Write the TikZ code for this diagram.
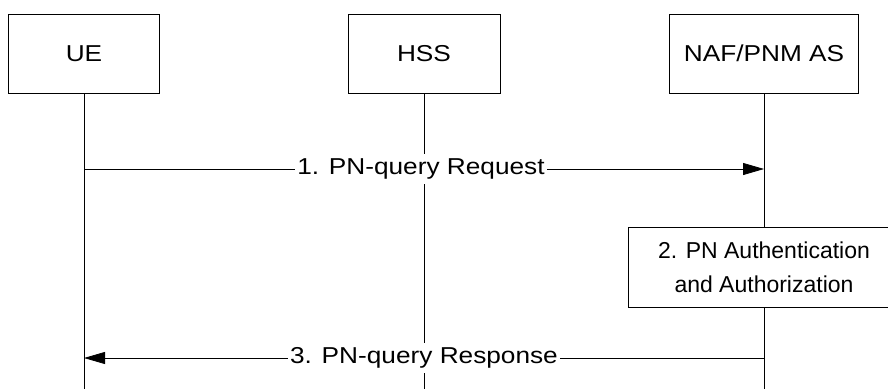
\documentclass[tikz,border=0pt]{standalone}
\usepackage{fontspec}
\setmainfont{Liberation Sans}
\newfontfamily\widefont[FakeStretch=1.14]{Liberation Sans}
\usetikzlibrary{arrows.meta,positioning}

\begin{document}
\begin{tikzpicture}[
x=1pt, y=1pt,
every node/.style={font=\fontsize{23}{34}\selectfont},
entity/.style={draw, fill=white, minimum height=79pt, inner sep=0pt, font=\fontsize{23}{34}\widefont},
msg/.style={-{Triangle[length=21pt,width=12pt]}, line width=0.8pt},
msglabel/.style={fill=white, inner xsep=2pt, inner ysep=5pt, font=\fontsize{23}{34}\widefont}
]
\useasboundingbox (0,0) rectangle (888,389);

\node (ue)  [entity, minimum width=151pt] at (84,335.5)  {UE};
\node (hss) [entity, minimum width=152pt] at (424,335.5) {HSS};
\node (naf) [entity, minimum width=189pt] at (764,335.5) {NAF/PNM AS};

%
\coordinate (ue-end)  at (ue.south |- 0,0);
\coordinate (hss-end) at (hss.south |- 0,0);
\coordinate (naf-end) at (naf.south |- 0,0);

\draw[line width=0.8pt] (ue.south)  -- (ue-end);
\draw[line width=0.8pt] (hss.south) -- (hss-end);
\draw[line width=0.8pt] (naf.south) -- (naf-end);

\coordinate (req1) at (ue.south |- 0,220);
\coordinate (req2) at (naf.south |- 0,220);
\coordinate (rsp1) at (naf.south |- 0,31);
\coordinate (rsp2) at (ue.south |- 0,31);

\draw[msg] (req1) -- node[msglabel, xshift=-3pt] {1. PN-query Request} (req2);

\node (auth) [draw, fill=white, minimum width=272pt, minimum height=80pt, inner sep=0pt, align=center] at (naf.south |- 0,122) {2. PN Authentication\\and Authorization};

\draw[msg] (rsp1) -- node[msglabel] {3. PN-query Response} (rsp2);

\end{tikzpicture}
\end{document}
